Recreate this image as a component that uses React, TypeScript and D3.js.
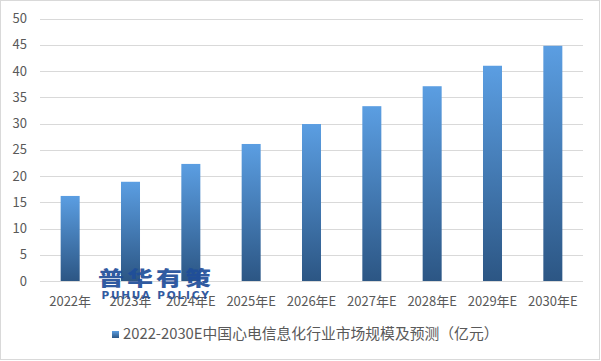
import React from "react";
import * as d3 from "d3";

const categories = ["2022年", "2023年", "2024年E", "2025年E", "2026年E", "2027年E", "2028年E", "2029年E", "2030年E"];
const values = [16.2, 18.9, 22.3, 26.1, 29.9, 33.3, 37.1, 41.0, 44.8];
const yTicks = [0, 5, 10, 15, 20, 25, 30, 35, 40, 45, 50];
const seriesName = "2022-2030E中国心电信息化行业市场规模及预测（亿元）";

const W = 601;
const H = 361;
const FONT = "'Noto Sans CJK SC', 'Noto Sans', sans-serif";

export default function App() {
  const x = d3.scaleBand<string>().domain(categories).range([40, 583]).paddingInner(0.685).paddingOuter(0.3425);
  const y = d3.scaleLinear().domain([0, 50]).range([281, 18.5]);
  return (
    <svg width={W} height={H} style={{ position: "absolute", left: 0, top: 0, background: "#fff" }} fontFamily={FONT}>
      <defs>
        <linearGradient id="barGrad" x1="0" y1="0" x2="0" y2="1">
          <stop offset="0%" stopColor="#5b9ee2" />
          <stop offset="100%" stopColor="#2c5684" />
        </linearGradient>
        <linearGradient id="legGrad" x1="0" y1="0" x2="0" y2="1">
          <stop offset="0%" stopColor="#5b9ee2" />
          <stop offset="100%" stopColor="#2c5684" />
        </linearGradient>
      </defs>
      <rect x={0.5} y={0.5} width={W - 2} height={H - 2} fill="#fff" stroke="#d9d9d9" />
      {yTicks.map((t) => (
        <g key={t}>
          <line x1={40} x2={583} y1={Math.round(y(t)) + 0.5} y2={Math.round(y(t)) + 0.5} stroke="#d9d9d9" strokeWidth={1} />
          <text x={27} y={y(t)} dy="0.35em" textAnchor="end" fontSize={13} fill="#595959">{t}</text>
        </g>
      ))}
      {categories.map((c, i) => (
        <rect key={c} x={x(c)} y={y(values[i])} width={x.bandwidth()} height={y(0) - y(values[i])} fill="url(#barGrad)" />
      ))}
      {categories.map((c) => (
        <text key={c} x={(x(c) as number) + x.bandwidth() / 2} y={301} dy="0.35em" textAnchor="middle" fontSize={13} fill="#595959">{c}</text>
      ))}
      <g opacity={0.92}>
        <g transform="translate(156,286) scale(1.3,1)">
          <text x={0} y={0} textAnchor="middle" fontSize={20} fontWeight={900} fill="#1f4e9a" letterSpacing={2.3} fontFamily="'Noto Sans CJK SC', sans-serif">普华有策</text>
        </g>
        <text x={156} y={299} textAnchor="middle" fontSize={10.5} fontWeight={700} fill="#1f4e9a" letterSpacing={1.8} fontFamily="'DejaVu Sans', sans-serif">PUHUA POLICY</text>
      </g>
      <rect x={112} y={331} width={7} height={7} fill="url(#legGrad)" />
      <text x={123} y={334} dy="0.35em" fontSize={14.8} fill="#595959">{seriesName}</text>
    </svg>
  );
}
